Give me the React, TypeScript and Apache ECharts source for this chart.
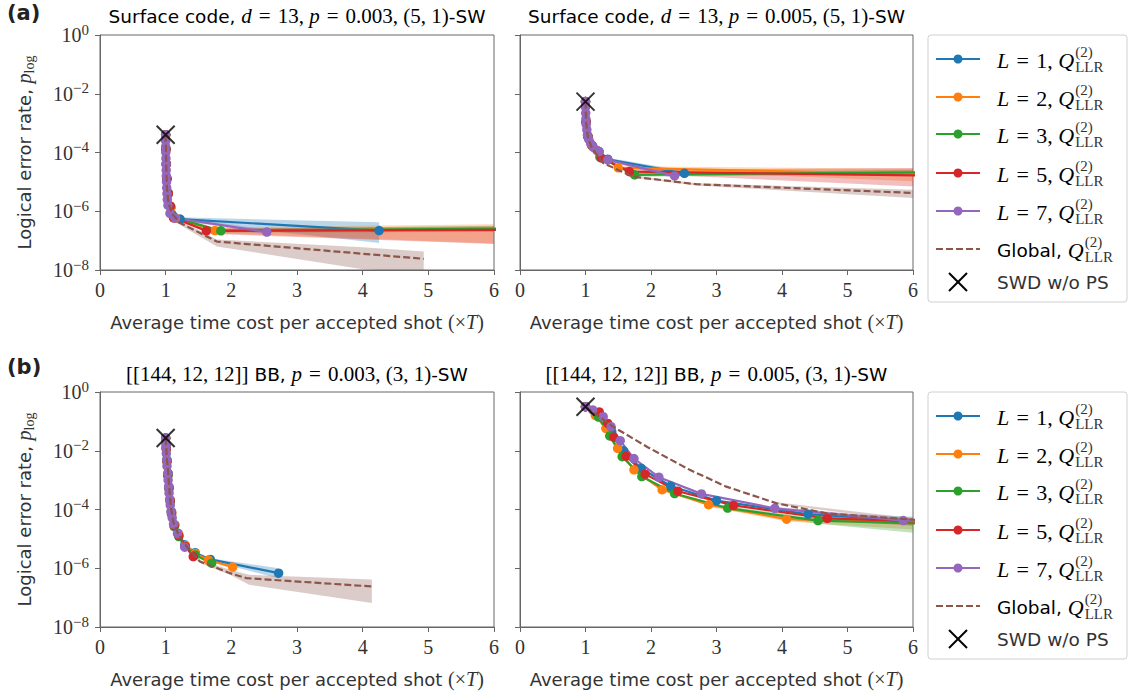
import React, { useEffect, useRef } from 'react';
import * as echarts from 'echarts';

type Pt = [number, number];
type BandPt = [number, number, number];

// ---------- categories / labels ----------
const L_VALUES = [1, 2, 3, 5, 7];
const L_COLORS = ['#1f77b4', '#ff7f0e', '#2ca02c', '#d62728', '#9467bd'];
const GLOBAL_COLOR = '#8c564b';
const Y_MIN = 1e-8;
const Y_MAX = 1;
const X_MIN = 0;
const X_MAX = 6;

// ---------- (a) Surface code, d=13, p=0.003 ----------
const A_L1: Pt[] = [[1.0, 4.0e-4], [1.005, 1.26e-4], [1.01, 4.0e-5], [1.02, 1.26e-5], [1.04, 4.0e-6], [1.08, 1.4e-6], [1.22, 5.4e-7], [4.25, 2.2e-7]];
const A_L2: Pt[] = [[1.0, 4.0e-4], [1.005, 1.3e-4], [1.01, 4.2e-5], [1.02, 1.3e-5], [1.04, 4.0e-6], [1.08, 1.3e-6], [1.15, 5.8e-7], [1.75, 2.2e-7], [7.5, 2.6e-7]];
const A_L3: Pt[] = [[1.0, 4.0e-4], [1.005, 1.3e-4], [1.01, 4.0e-5], [1.02, 1.3e-5], [1.04, 4.2e-6], [1.07, 1.5e-6], [1.12, 6.2e-7], [1.84, 2.15e-7], [8.0, 2.8e-7]];
const A_L5: Pt[] = [[1.0, 4.0e-4], [1.005, 1.3e-4], [1.01, 4.0e-5], [1.02, 1.3e-5], [1.04, 4.0e-6], [1.07, 1.5e-6], [1.12, 6.0e-7], [1.62, 2.15e-7], [8.0, 2.4e-7]];
const A_L7: Pt[] = [[1.0, 4.0e-4], [1.0, 2.5e-4], [1.0, 1.6e-4], [1.002, 1.0e-4], [1.004, 6.3e-5], [1.006, 4.0e-5], [1.008, 2.5e-5], [1.01, 1.6e-5], [1.013, 1.0e-5], [1.016, 6.3e-6], [1.02, 4.0e-6], [1.025, 2.5e-6], [1.035, 1.6e-6], [1.065, 8.5e-7], [1.14, 5.9e-7], [2.54, 1.95e-7]];
const A_G: Pt[] = [[1.0, 4.0e-4], [1.005, 1.0e-4], [1.01, 2.5e-5], [1.02, 6.3e-6], [1.04, 2.0e-6], [1.1, 8.0e-7], [1.22, 4.0e-7], [1.78, 9.3e-8], [4.93, 2.4e-8]];
const A_SWD: Pt[] = [[1.0, 4.0e-4]];
const A_B1: BandPt[] = [[1.22, 4.6e-7, 6.2e-7], [4.25, 8.3e-8, 4.2e-7]];
const A_B2: BandPt[] = [[1.15, 5.0e-7, 6.6e-7], [1.75, 1.8e-7, 2.8e-7], [7.5, 6.0e-8, 4.0e-7]];
const A_B3: BandPt[] = [[1.84, 1.9e-7, 2.5e-7], [8.0, 2.0e-7, 3.6e-7]];
const A_B5: BandPt[] = [[1.62, 1.7e-7, 2.6e-7], [8.0, 5.4e-8, 3.2e-7]];
const A_B7: BandPt[] = [[1.14, 5.3e-7, 6.5e-7], [2.54, 1.6e-7, 2.4e-7]];
const A_BG: BandPt[] = [[1.1, 7.0e-7, 9.0e-7], [1.22, 3.4e-7, 4.8e-7], [1.78, 6.3e-8, 1.1e-7], [4.0, 1.07e-8, 5.9e-8], [4.93, 8.0e-9, 4.3e-8]];

// ---------- (a) Surface code, d=13, p=0.005 ----------
const B_L1: Pt[] = [[1.0, 5.4e-3], [1.01, 1.1e-3], [1.04, 3.4e-4], [1.1, 1.7e-4], [1.2, 1.1e-4], [1.34, 5.9e-5], [2.51, 1.95e-5]];
const B_L2: Pt[] = [[1.0, 5.4e-3], [1.01, 1.1e-3], [1.04, 3.4e-4], [1.1, 1.7e-4], [1.2, 1.05e-4], [1.5, 3.0e-5], [8.0, 1.5e-5]];
const B_L3: Pt[] = [[1.0, 5.4e-3], [1.01, 1.1e-3], [1.04, 3.4e-4], [1.1, 1.7e-4], [1.22, 7.0e-5], [1.75, 1.74e-5], [8.0, 2.3e-5]];
const B_L5: Pt[] = [[1.0, 5.4e-3], [1.01, 1.1e-3], [1.04, 3.4e-4], [1.1, 1.7e-4], [1.24, 6.5e-5], [1.67, 2.24e-5], [8.0, 1.45e-5]];
const B_L7: Pt[] = [[1.0, 5.4e-3], [1.0, 3.5e-3], [1.003, 2.2e-3], [1.006, 1.4e-3], [1.01, 9.0e-4], [1.02, 6.0e-4], [1.03, 4.0e-4], [1.05, 2.8e-4], [1.08, 2.0e-4], [1.12, 1.5e-4], [1.17, 1.2e-4], [1.21, 1.07e-4], [1.34, 5.6e-5], [2.36, 1.6e-5]];
const B_G: Pt[] = [[1.0, 5.4e-3], [1.01, 1.0e-3], [1.04, 3.0e-4], [1.1, 1.4e-4], [1.27, 4.4e-5], [1.72, 1.5e-5], [2.7, 8.3e-6], [6.0, 4.2e-6]];
const B_SWD: Pt[] = [[1.0, 5.4e-3]];
const B_B1: BandPt[] = [[1.34, 5.2e-5, 6.6e-5], [2.51, 1.5e-5, 2.4e-5]];
const B_B2: BandPt[] = [[1.5, 2.7e-5, 3.4e-5], [8.0, 7.0e-6, 2.6e-5]];
const B_B3: BandPt[] = [[1.75, 1.5e-5, 2.0e-5], [8.0, 1.9e-5, 2.9e-5]];
const B_B5: BandPt[] = [[1.67, 1.95e-5, 2.57e-5], [8.0, 4.3e-6, 3.2e-5]];
const B_B7: BandPt[] = [[1.34, 5.0e-5, 6.2e-5], [2.36, 1.3e-5, 1.9e-5]];
const B_BG: BandPt[] = [[1.72, 1.4e-5, 1.6e-5], [2.7, 7.6e-6, 9.0e-6], [6.0, 2.8e-6, 5.4e-6]];

// ---------- (b) [[144,12,12]] BB, p=0.003 ----------
const C_L1: Pt[] = [[1.0, 2.7e-2], [1.01, 1.4e-2], [1.02, 4.9e-3], [1.04, 1.7e-3], [1.05, 6.0e-4], [1.07, 2.1e-4], [1.09, 8.5e-5], [1.14, 3.0e-5], [1.19, 1.55e-5], [1.29, 6.3e-6], [1.45, 3.4e-6], [1.68, 2.0e-6], [2.72, 6.8e-7]];
const C_L2: Pt[] = [[1.0, 2.7e-2], [1.01, 1.1e-2], [1.02, 4.5e-3], [1.035, 1.5e-3], [1.05, 5.5e-4], [1.07, 2.0e-4], [1.09, 8.0e-5], [1.13, 3.0e-5], [1.2, 1.4e-5], [1.3, 6.0e-6], [1.45, 3.2e-6], [1.65, 1.9e-6], [2.02, 1.1e-6]];
const C_L3: Pt[] = [[1.0, 2.7e-2], [1.01, 1.2e-2], [1.02, 4.2e-3], [1.035, 1.4e-3], [1.05, 5.0e-4], [1.07, 1.8e-4], [1.09, 7.0e-5], [1.13, 2.6e-5], [1.2, 1.2e-5], [1.3, 5.5e-6], [1.45, 2.8e-6], [1.7, 1.48e-6]];
const C_L5: Pt[] = [[1.0, 2.7e-2], [1.01, 1.2e-2], [1.02, 4.5e-3], [1.03, 1.5e-3], [1.05, 5.5e-4], [1.07, 2.0e-4], [1.09, 7.5e-5], [1.13, 2.8e-5], [1.2, 1.3e-5], [1.3, 5.5e-6], [1.42, 2.5e-6]];
const C_L7: Pt[] = [[1.0, 2.7e-2], [1.003, 1.8e-2], [1.005, 1.3e-2], [1.01, 8.0e-3], [1.015, 5.0e-3], [1.02, 3.0e-3], [1.03, 1.7e-3], [1.037, 1.0e-3], [1.045, 6.0e-4], [1.052, 3.6e-4], [1.06, 2.2e-4], [1.07, 1.4e-4], [1.08, 8.5e-5], [1.1, 5.2e-5], [1.12, 3.2e-5], [1.18, 1.5e-5], [1.29, 5.2e-6]];
const C_G: Pt[] = [[1.0, 2.7e-2], [1.02, 5.0e-3], [1.04, 1.5e-3], [1.06, 4.0e-4], [1.08, 1.2e-4], [1.12, 3.5e-5], [1.2, 1.3e-5], [1.35, 4.5e-6], [1.52, 1.7e-6], [1.98, 6.8e-7], [2.23, 4.6e-7], [4.14, 2.4e-7]];
const C_SWD: Pt[] = [[1.0, 2.7e-2]];
const C_B1: BandPt[] = [[1.68, 1.8e-6, 2.2e-6], [2.72, 4.6e-7, 1.0e-6]];
const C_B2: BandPt[] = [[1.65, 1.7e-6, 2.1e-6], [2.02, 9.5e-7, 1.3e-6]];
const C_B3: BandPt[] = [[1.45, 2.6e-6, 3.0e-6], [1.7, 1.35e-6, 1.65e-6]];
const C_B5: BandPt[] = [[1.3, 5.0e-6, 6.0e-6], [1.42, 2.3e-6, 2.8e-6]];
const C_B7: BandPt[] = [[1.18, 1.4e-5, 1.6e-5], [1.29, 4.8e-6, 5.6e-6]];
const C_BG: BandPt[] = [[1.52, 1.5e-6, 1.9e-6], [1.98, 6.0e-7, 8.9e-7], [2.27, 2.75e-7, 6.0e-7], [4.14, 6.5e-8, 4.1e-7]];

// ---------- (b) [[144,12,12]] BB, p=0.005 ----------
const D_L1: Pt[] = [[1.0, 0.316], [1.2, 0.17], [1.4, 0.045], [1.58, 0.01], [1.85, 2.5e-3], [2.3, 6.3e-4], [3.0, 2.0e-4], [4.4, 6.9e-5], [7.0, 3.0e-5]];
const D_L2: Pt[] = [[1.0, 0.316], [1.15, 0.16], [1.31, 0.058], [1.49, 0.012], [1.74, 2.24e-3], [2.17, 4.7e-4], [2.88, 1.45e-4], [4.07, 4.7e-5], [7.0, 3.1e-5]];
const D_L3: Pt[] = [[1.0, 0.316], [1.2, 0.14], [1.37, 0.032], [1.56, 6.3e-3], [1.86, 1.32e-3], [2.36, 3.5e-4], [3.17, 1.12e-4], [4.55, 4.2e-5], [7.0, 2.95e-5]];
const D_L5: Pt[] = [[1.0, 0.316], [1.21, 0.21], [1.34, 0.085], [1.43, 0.029], [1.62, 6.6e-3], [1.91, 1.6e-3], [2.41, 4.2e-4], [3.26, 1.38e-4], [4.69, 5.0e-5], [7.0, 3.3e-5]];
const D_L7: Pt[] = [[1.0, 0.316], [1.11, 0.245], [1.27, 0.145], [1.39, 0.066], [1.53, 0.022], [1.74, 5.4e-3], [2.12, 1.26e-3], [2.77, 3.4e-4], [3.89, 1.1e-4], [5.85, 4.2e-5], [7.0, 3.5e-5]];
const D_G: Pt[] = [[1.0, 0.316], [1.2, 0.15], [1.42, 0.066], [1.95, 0.0132], [2.59, 2.24e-3], [3.15, 6.0e-4], [3.92, 1.62e-4], [4.68, 7.4e-5], [6.0, 4.5e-5], [7.0, 3.6e-5]];
const D_SWD: Pt[] = [[1.0, 0.316]];
const D_B1: BandPt[] = [[4.4, 6.0e-5, 8.0e-5], [7.0, 2.0e-5, 4.5e-5]];
const D_B2: BandPt[] = [[2.88, 1.25e-4, 1.7e-4], [4.07, 3.9e-5, 5.6e-5], [7.0, 1.5e-5, 4.5e-5]];
const D_B3: BandPt[] = [[3.17, 9.5e-5, 1.3e-4], [4.55, 3.3e-5, 5.0e-5], [7.0, 1.0e-5, 4.0e-5]];
const D_B5: BandPt[] = [[4.69, 4.3e-5, 5.8e-5], [7.0, 2.0e-5, 4.8e-5]];
const D_B7: BandPt[] = [[3.89, 9.5e-5, 1.25e-4], [5.85, 3.4e-5, 5.0e-5], [7.0, 2.6e-5, 4.5e-5]];
const D_BG: BandPt[] = [[3.92, 1.5e-4, 1.75e-4], [6.0, 4.0e-5, 5.0e-5]];

// ---------- titles ----------
const EQ = '\u2004=\u2004';
const TITLES = [
  `{s|Surface code, }{i|d}{m|${EQ}13, }{i|p}{m|${EQ}0.003, (5, 1)}{s|-SW}`,
  `{s|Surface code, }{i|d}{m|${EQ}13, }{i|p}{m|${EQ}0.005, (5, 1)}{s|-SW}`,
  `{m|[[144, 12, 12]]}{s| BB, }{i|p}{m|${EQ}0.003, (3, 1)}{s|-SW}`,
  `{m|[[144, 12, 12]]}{s| BB, }{i|p}{m|${EQ}0.005, (3, 1)}{s|-SW}`,
];
const PANEL_LETTERS = ['(a)', '(b)'];

const PANELS = [
  { lines: [A_L1, A_L2, A_L3, A_L5, A_L7], global: A_G, bands: [A_B1, A_B2, A_B3, A_B5, A_B7], globalBand: A_BG, swd: A_SWD },
  { lines: [B_L1, B_L2, B_L3, B_L5, B_L7], global: B_G, bands: [B_B1, B_B2, B_B3, B_B5, B_B7], globalBand: B_BG, swd: B_SWD },
  { lines: [C_L1, C_L2, C_L3, C_L5, C_L7], global: C_G, bands: [C_B1, C_B2, C_B3, C_B5, C_B7], globalBand: C_BG, swd: C_SWD },
  { lines: [D_L1, D_L2, D_L3, D_L5, D_L7], global: D_G, bands: [D_B1, D_B2, D_B3, D_B5, D_B7], globalBand: D_BG, swd: D_SWD },
];

// ---------- layout / style ----------
const GRIDS = [
  { left: 100, top: 35, width: 394 },
  { left: 520, top: 35, width: 393 },
  { left: 100, top: 392, width: 394 },
  { left: 520, top: 392, width: 393 },
];
const PLOT_H = 235;
const TEXT = '#333333';
const AXIS = '#666666';
const SANS = '"DejaVu Sans", sans-serif';
const SERIF = '"Liberation Serif", serif';
const FS_SANS = 18;
const FS_MATH = 20;
const FS_LEG_SANS = 18.5;
const FS_LEG_MATH = 22;
const FS_SMALL = 15;

const RICH: any = {
  s: { fontFamily: SANS, fontSize: FS_SANS, color: TEXT, lineHeight: 24 },
  i: { fontFamily: SERIF, fontStyle: 'italic', fontSize: FS_MATH, color: TEXT, lineHeight: 24 },
  m: { fontFamily: SERIF, fontSize: FS_MATH, color: TEXT, lineHeight: 24 },
  sub: { fontFamily: SERIF, fontSize: 14, color: TEXT, lineHeight: 14, verticalAlign: 'bottom' },
};
const TITLE_RICH: any = {
  s: { fontFamily: SANS, fontSize: 18.5, color: TEXT, lineHeight: 24 },
  i: { fontFamily: SERIF, fontStyle: 'italic', fontSize: 21, color: TEXT, lineHeight: 24 },
  m: { fontFamily: SERIF, fontSize: 21, color: TEXT, lineHeight: 24 },
};
const LEG_RICH: any = {
  s: { fontFamily: SANS, fontSize: FS_LEG_SANS, color: TEXT, lineHeight: 26 },
  i: { fontFamily: SERIF, fontStyle: 'italic', fontSize: FS_LEG_MATH, color: TEXT, lineHeight: 26 },
  m: { fontFamily: SERIF, fontSize: FS_LEG_MATH, color: TEXT, lineHeight: 26 },
};

const X_PATH = 'path://M0,0L10,10M10,0L0,10';

let measureCtx: CanvasRenderingContext2D | null = null;
function textWidth(text: string, font: string): number {
  if (!measureCtx) measureCtx = document.createElement('canvas').getContext('2d');
  if (!measureCtx) return text.length * 9;
  measureCtx.font = font;
  return measureCtx.measureText(text).width;
}

function bandRenderer(band: BandPt[], color: string) {
  return (params: any, api: any) => {
    if (params.dataIndex !== 0) return null;
    const upper = band.map((p) => api.coord([p[0], p[2]]));
    const lower = band.map((p) => api.coord([p[0], p[1]])).reverse();
    return {
      type: 'polygon',
      shape: { points: upper.concat(lower) },
      style: { fill: color, opacity: 0.3 },
    };
  };
}

const LEGEND_ROWS = [24, 62, 99, 138, 176, 214, 247];
const LEG_EQ = '\u2004=\u2004';

function legendGroup(top: number) {
  const children: any[] = [];
  children.push({
    type: 'rect',
    shape: { x: 0, y: 0, width: 199, height: 267, r: 3 },
    style: { fill: '#ffffff', stroke: '#d0d0d0', lineWidth: 1 },
  });
  const italicFont = `italic normal ${FS_LEG_MATH}px ${SERIF}`;
  const mathFont = `normal normal ${FS_LEG_MATH}px ${SERIF}`;
  const sansFont = `normal normal ${FS_LEG_SANS}px ${SANS}`;
  const tx = 69;
  const small = (text: string, x: number, y: number) => ({
    type: 'text', x, y, style: { text, fontFamily: SERIF, fontSize: FS_SMALL, fill: TEXT, verticalAlign: 'middle' },
  });
  L_VALUES.forEach((L, k) => {
    const y = LEGEND_ROWS[k];
    children.push({ type: 'line', shape: { x1: 8, y1: y, x2: 52, y2: y }, style: { stroke: L_COLORS[k], lineWidth: 2 } });
    children.push({ type: 'circle', shape: { cx: 30, cy: y, r: 4.5 }, style: { fill: L_COLORS[k] } });
    children.push({ type: 'text', x: tx, y: y + 1, style: { text: `{i|L}{m|${LEG_EQ}${L}, }{i|Q}`, rich: LEG_RICH, verticalAlign: 'middle' } });
    const w = textWidth('L', italicFont) + textWidth(`${LEG_EQ}${L}, `, mathFont) + textWidth('Q', italicFont);
    children.push(small('(2)', tx + w + 1, y - 7));
    children.push(small('LLR', tx + w + 1, y + 8));
  });
  const gy = LEGEND_ROWS[5];
  children.push({ type: 'line', shape: { x1: 8, y1: gy, x2: 52, y2: gy }, style: { stroke: GLOBAL_COLOR, lineWidth: 2, lineDash: [7, 3] } });
  children.push({ type: 'text', x: tx, y: gy + 1, style: { text: '{s|Global, }{i|Q}', rich: LEG_RICH, verticalAlign: 'middle' } });
  const gw = textWidth('Global, ', sansFont) + textWidth('Q', italicFont);
  children.push(small('(2)', tx + gw + 1, gy - 7));
  children.push(small('LLR', tx + gw + 1, gy + 8));
  const sy = LEGEND_ROWS[6];
  children.push({ type: 'line', shape: { x1: 21, y1: sy - 9, x2: 39, y2: sy + 9 }, style: { stroke: '#000', lineWidth: 2 } });
  children.push({ type: 'line', shape: { x1: 21, y1: sy + 9, x2: 39, y2: sy - 9 }, style: { stroke: '#000', lineWidth: 2 } });
  children.push({ type: 'text', x: tx, y: sy, style: { text: 'SWD w/o PS', fontFamily: SANS, fontSize: FS_LEG_SANS, fill: TEXT, verticalAlign: 'middle' } });
  return { type: 'group', x: 928, y: top, z: 50, children };
}

function buildOption() {
  const series: any[] = [];
  PANELS.forEach((p, i) => {
    p.bands.forEach((band, k) => {
      series.push({
        type: 'custom', xAxisIndex: i, yAxisIndex: i, data: band, clip: true, silent: true,
        encode: { x: 0, y: [1, 2] }, renderItem: bandRenderer(band, L_COLORS[k]), z: 1,
      });
    });
    series.push({
      type: 'custom', xAxisIndex: i, yAxisIndex: i, data: p.globalBand, clip: true, silent: true,
      encode: { x: 0, y: [1, 2] }, renderItem: bandRenderer(p.globalBand, GLOBAL_COLOR), z: 1,
    });
    p.lines.forEach((data, k) => {
      series.push({
        type: 'line', name: `L = ${L_VALUES[k]}`, xAxisIndex: i, yAxisIndex: i, data,
        symbol: 'circle', symbolSize: 9.5, showSymbol: true, showAllSymbol: true, clip: true, silent: true,
        lineStyle: { width: 2.2, color: L_COLORS[k] }, itemStyle: { color: L_COLORS[k] }, z: 3,
      });
    });
    series.push({
      type: 'line', name: 'Global', xAxisIndex: i, yAxisIndex: i, data: p.global,
      symbol: 'none', clip: true, silent: true,
      lineStyle: { width: 2.2, color: GLOBAL_COLOR, type: [7, 3] }, z: 4,
    });
    series.push({
      type: 'scatter', name: 'SWD w/o PS', xAxisIndex: i, yAxisIndex: i, data: p.swd,
      symbol: X_PATH, symbolSize: 18, silent: true,
      itemStyle: { color: 'none', borderColor: '#000000', borderWidth: 2 }, z: 5,
    });
  });

  const graphic: any[] = [];
  TITLES.forEach((t, i) => {
    const g = GRIDS[i];
    graphic.push({
      type: 'text', x: g.left + g.width / 2, y: i < 2 ? 16 : 374,
      style: { text: t, rich: TITLE_RICH, align: 'center', verticalAlign: 'middle' },
    });
  });
  PANEL_LETTERS.forEach((t, i) => {
    graphic.push({
      type: 'text', x: 7, y: i === 0 ? 13 : 367,
      style: { text: t, fontFamily: SANS, fontSize: 21, fontWeight: 'bold', fill: '#222', verticalAlign: 'middle' },
    });
  });
  graphic.push(legendGroup(35));
  graphic.push(legendGroup(392));

  return {
    animation: false,
    backgroundColor: '#ffffff',
    grid: GRIDS.map((g) => ({
      left: g.left, top: g.top, width: g.width, height: PLOT_H,
      show: true, borderColor: AXIS, borderWidth: 1, backgroundColor: 'transparent',
    })),
    xAxis: GRIDS.map((_, i) => ({
      type: 'value', gridIndex: i, min: X_MIN, max: X_MAX, interval: 1,
      axisLine: { show: true, onZero: false, lineStyle: { color: AXIS, width: 1 } },
      axisTick: { show: true, length: 5, lineStyle: { color: AXIS } },
      splitLine: { show: false },
      axisLabel: { color: TEXT, fontFamily: SERIF, fontSize: FS_MATH, margin: 10 },
      name: '{s|Average time cost per accepted shot }{m|(×}{i|T}{m|)}',
      nameLocation: 'middle', nameGap: 40,
      nameTextStyle: { rich: RICH },
    })),
    yAxis: GRIDS.map((_, i) => ({
      type: 'log', logBase: 10, gridIndex: i, min: Y_MIN, max: Y_MAX, interval: 2, splitNumber: 4,
      axisLine: { show: true, onZero: false, lineStyle: { color: AXIS, width: 1 } },
      axisTick: { show: true, length: 5, lineStyle: { color: AXIS } },
      splitLine: { show: false },
      minorTick: { show: false },
      axisLabel: {
        show: i % 2 === 0, margin: 11,
        formatter: (v: number) => {
          const e = Math.round(Math.log10(v));
          return `{b|10}{sup|${e === 0 ? '0' : '−' + String(-e)}}`;
        },
        rich: {
          b: { fontFamily: SERIF, fontSize: FS_MATH, color: TEXT, lineHeight: 26 },
          sup: { fontFamily: SERIF, fontSize: 15, color: TEXT, lineHeight: 15, verticalAlign: 'top' },
        },
      },
      name: i % 2 === 0 ? '{s|Logical error rate, }{i|p}{sub|log}' : '',
      nameLocation: 'middle', nameGap: 64, nameRotate: 90,
      nameTextStyle: { rich: RICH },
    })),
    series,
    graphic,
  };
}

export default function App() {
  const ref = useRef<HTMLDivElement>(null);
  useEffect(() => {
    document.body.style.margin = '0';
    if (!ref.current) return;
    const chart = echarts.init(ref.current, undefined, { renderer: 'svg' });
    chart.setOption(buildOption() as any);
    return () => chart.dispose();
  }, []);
  return <div ref={ref} style={{ position: 'absolute', left: 0, top: 0, width: 1132, height: 697, background: '#fff' }} />;
}
